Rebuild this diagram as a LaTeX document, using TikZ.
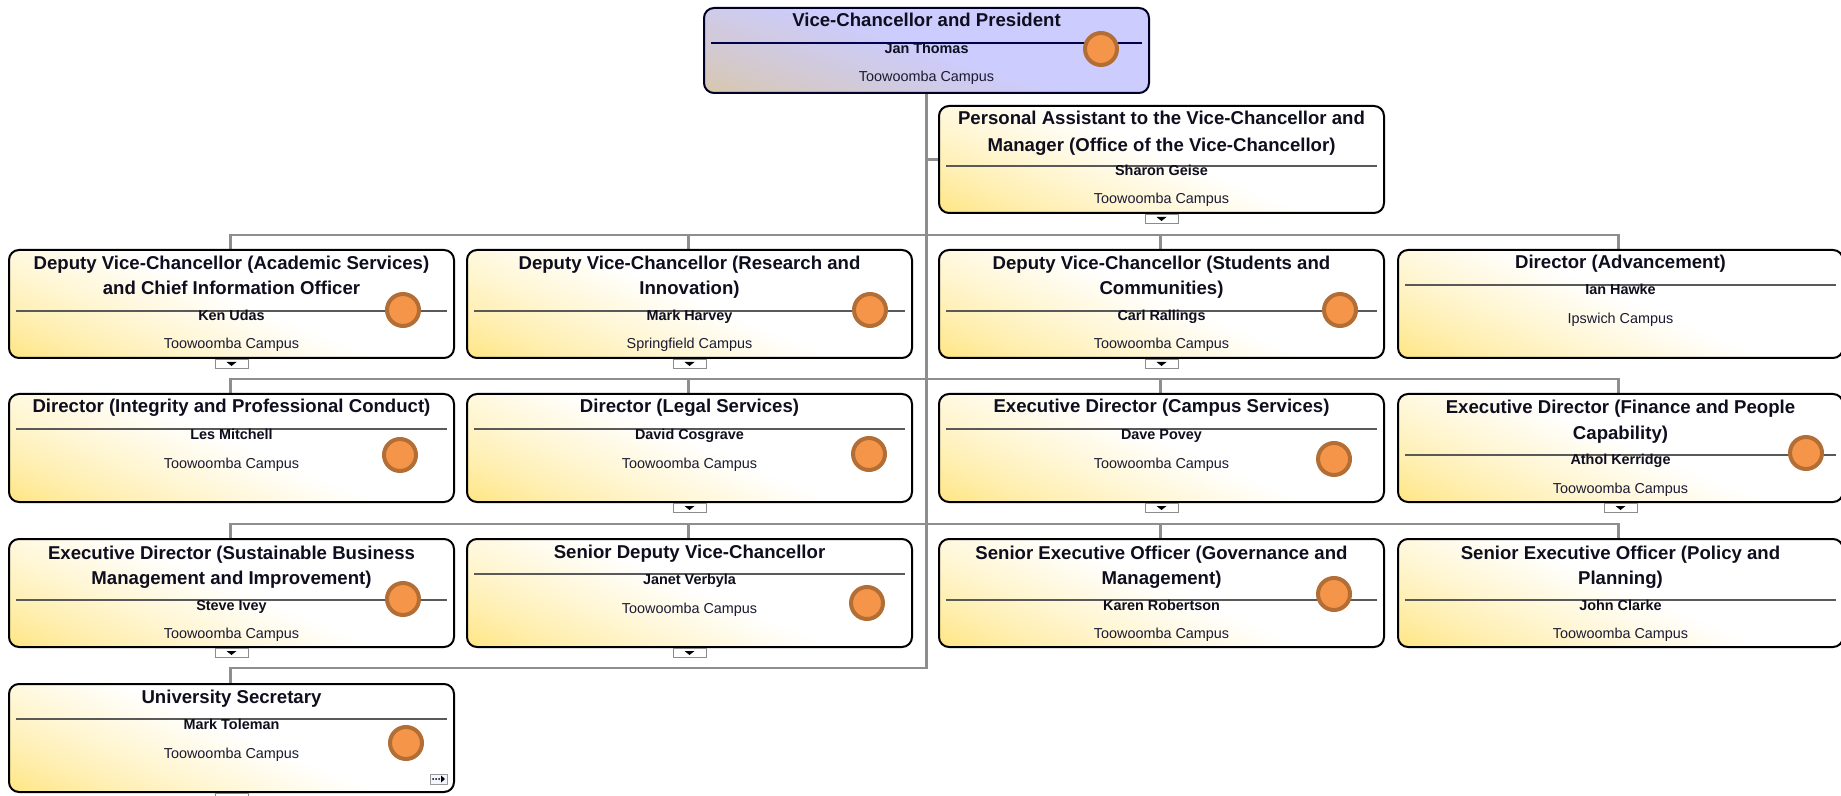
\documentclass[tikz,border=0pt]{standalone}
\usepackage{fontspec}
\setmainfont{Liberation Sans}
\usetikzlibrary{calc}
\definecolor{connc}{HTML}{8E8E8E}
\definecolor{circf}{HTML}{F4954A}
\definecolor{circd}{HTML}{B36E36}
\definecolor{txtc}{HTML}{0E0E1E}
\definecolor{camc}{HTML}{1A1A33}
% box fills: bottom-left corner coloured, fading towards the top right
\pgfdeclarefunctionalshading{yelshade}{\pgfpoint{0bp}{0bp}}{\pgfpoint{100bp}{100bp}}{}{%
  25 sub exch 25 sub 1.75 mul add 73 div dup 1 gt {pop 1} if dup 0 lt {pop 0} if 0.75 exp
  dup 0.106 mul 0.894 add exch 0.514 mul 0.486 add 1 3 1 roll}
\pgfdeclarefunctionalshading{lavshade}{\pgfpoint{0bp}{0bp}}{\pgfpoint{100bp}{100bp}}{}{%
  25 sub exch 25 sub 1.75 mul add 73 div dup 1 gt {pop 1} if dup 0 lt {pop 0} if 0.75 exp
  dup -0.051 mul 0.851 add exch dup 0.02 mul 0.78 add exch 0.349 mul 0.651 add}
\tikzset{
  orgbox/.style={draw=black, line width=1pt, rounded corners=5pt, inner sep=0pt,
    minimum width=222.5pt, anchor=north west, shade, shading=yelshade},
  vcbox/.style={orgbox, draw=black!85!blue, shading=lavshade},
  divider/.style={draw=black!65, line width=0.6pt},
  conn/.style={draw=connc, line width=1.2pt},
  ttl/.style={font=\fontsize{9.3}{11}\selectfont\bfseries, text=txtc, anchor=base, inner sep=0pt},
  pname/.style={font=\fontsize{7.2}{9}\selectfont\bfseries, text=txtc, anchor=base, inner sep=0pt},
  campus/.style={font=\fontsize{7.2}{9}\selectfont, text=camc, anchor=base, inner sep=0pt},
  photo/.style={circle, draw=circd, fill=circf, line width=2pt, minimum size=16pt, inner sep=0pt},
  togbox/.style={draw=black!45, fill=white, line width=0.5pt, minimum width=16.5pt, minimum height=4.5pt, inner sep=0pt, anchor=north},
}
% single-line title box
\newcommand\boxone[6]{%
  \node[orgbox, minimum height=54pt] (#1) at (#2,#3) {};
  \draw[divider] ($(#1.north west)+(8,36)$) -- ($(#1.north east)+(-8,36)$);
  \node[ttl] (#1t1) at ($(#1.north)+(0,20)$) {#4};
  \node[pname] (#1n) at ($(#1.north)+(0,46)$) {#5};
  \node[campus] (#1c) at ($(#1.north)+(0,75)$) {#6};
}
% two-line title box
\newcommand\boxtwo[7]{%
  \node[orgbox, minimum height=54pt] (#1) at (#2,#3) {};
  \draw[divider] ($(#1.north west)+(8,62)$) -- ($(#1.north east)+(-8,62)$);
  \node[ttl] (#1t1) at ($(#1.north)+(0,21)$) {#4};
  \node[ttl] (#1t2) at ($(#1.north)+(0,46)$) {#5};
  \node[pname] (#1n) at ($(#1.north)+(0,72)$) {#6};
  \node[campus] (#1c) at ($(#1.north)+(0,100)$) {#7};
}
\newcommand\togl[1]{%
  \node[togbox] (#1tg) at (#1.south) {};
  \fill[black] ($(#1tg.north)+(-5,3)$) -- ($(#1tg.north)+(5,3)$) -- ($(#1tg.north)+(0,7)$) -- cycle;
}
\begin{document}
\begin{tikzpicture}[x=0.5pt,y=-0.5pt]
\useasboundingbox (0,0) rectangle (1841,796);
\clip (0,0) rectangle (1841,796);
\fill[white] (0,0) rectangle (1841,796);

% bus levels
\coordinate (y1) at (0,235);
\coordinate (y2) at (0,379);
\coordinate (y3) at (0,524);
\coordinate (y4) at (0,668);

% top boxes
\node[vcbox, minimum height=42.5pt] (vc) at (703,7) {};
\node[orgbox, minimum height=53.5pt] (pa) at (938,105) {};

% connectors (behind the row boxes)
\path (pa.west) coordinate (paw);
\draw[conn] (vc.south) -- (vc.south |- y4) -- (230.5,668) coordinate (r4top) -- (230.5,683);
\draw[conn] (vc.south |- paw) -- (paw);
\foreach \yy/\ty in {235/249,379/393,524/538}{
  \draw[conn] (230.5,\ty) -- (230.5,\yy) -- (1618.5,\yy) -- (1618.5,\ty);
  \draw[conn] (688.5,\yy) -- (688.5,\ty);
  \draw[conn] (1160.5,\yy) -- (1160.5,\ty);
}

% top box
\draw[divider, draw=black!70!blue] ($(vc.north west)+(8,36)$) -- ($(vc.north east)+(-8,36)$);
\node[ttl] (vct1) at ($(vc.north)+(0,20)$) {Vice-Chancellor and President};
\node[pname] (vcn) at ($(vc.north)+(0,47)$) {Jan Thomas};
\node[campus] (vcc) at ($(vc.north)+(0,75)$) {Toowoomba Campus};
\node[photo] (vcph) at (1101,49) {};

% PA box
\draw[divider] ($(pa.north west)+(8,61)$) -- ($(pa.north east)+(-8,61)$);
\node[ttl] (pat1) at ($(pa.north)+(0,20)$) {Personal Assistant to the Vice-Chancellor and};
\node[ttl] (pat2) at ($(pa.north)+(0,47)$) {Manager (Office of the Vice-Chancellor)};
\node[pname] (pan) at ($(pa.north)+(0,71)$) {Sharon Geise};
\node[campus] (pac) at ($(pa.north)+(0,99)$) {Toowoomba Campus};
\togl{pa}

% row 1
\boxtwo{ra}{8}{249}{Deputy Vice-Chancellor (Academic Services)}{and Chief Information Officer}{Ken Udas}{Toowoomba Campus}
\node[photo] (raph) at (403,310) {};
\togl{ra}
\boxtwo{rb}{466}{249}{Deputy Vice-Chancellor (Research and}{Innovation)}{Mark Harvey}{Springfield Campus}
\node[photo] (rbph) at (870,310) {};
\togl{rb}
\boxtwo{rc}{938}{249}{Deputy Vice-Chancellor (Students and}{Communities)}{Carl Rallings}{Toowoomba Campus}
\node[photo] (rcph) at (1340,310) {};
\togl{rc}
\boxone{rd}{1397}{249}{Director (Advancement)}{Ian Hawke}{Ipswich Campus}

% row 2
\boxone{sa}{8}{393}{Director (Integrity and Professional Conduct)}{Les Mitchell}{Toowoomba Campus}
\node[photo] (saph) at (400,455) {};
\boxone{sb}{466}{393}{Director (Legal Services)}{David Cosgrave}{Toowoomba Campus}
\node[photo] (sbph) at (869,454) {};
\togl{sb}
\boxone{sc}{938}{393}{Executive Director (Campus Services)}{Dave Povey}{Toowoomba Campus}
\node[photo] (scph) at (1334,459) {};
\togl{sc}
\boxtwo{sd}{1397}{393}{Executive Director (Finance and People}{Capability)}{Athol Kerridge}{Toowoomba Campus}
\node[photo] (sdph) at (1806,453) {};
\togl{sd}

% row 3
\boxtwo{ta}{8}{538}{Executive Director (Sustainable Business}{Management and Improvement)}{Steve Ivey}{Toowoomba Campus}
\node[photo] (taph) at (403,599) {};
\togl{ta}
\boxone{tb}{466}{538}{Senior Deputy Vice-Chancellor}{Janet Verbyla}{Toowoomba Campus}
\node[photo] (tbph) at (867,603) {};
\togl{tb}
\boxtwo{tc}{938}{538}{Senior Executive Officer (Governance and}{Management)}{Karen Robertson}{Toowoomba Campus}
\node[photo] (tcph) at (1334,594) {};
\boxtwo{td}{1397}{538}{Senior Executive Officer (Policy and}{Planning)}{John Clarke}{Toowoomba Campus}

% row 4
\boxone{ua}{8}{683}{University Secretary}{Mark Toleman}{Toowoomba Campus}
\node[photo] (uaph) at (406,743) {};
\togl{ua}
% small icon
\draw[draw=black!40, fill=blue!4, line width=0.4pt] (430,774) rectangle (447,784);
\foreach \dx in {433,436,439}{\fill[black] (\dx,779) circle (0.5pt);}
\fill[black] (441,775.5) -- (445,779) -- (441,782.5) -- cycle;
\end{tikzpicture}
\end{document}
